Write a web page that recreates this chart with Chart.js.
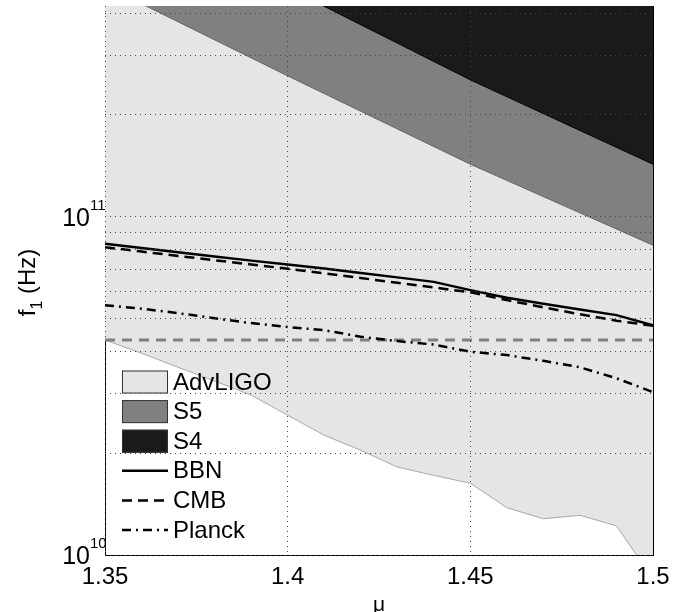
<!DOCTYPE html>
<html>
<head>
<meta charset="utf-8">
<script src="https://cdn.jsdelivr.net/npm/chart.js@4.4.0/dist/chart.umd.min.js"></script>
<style>
  html, body { margin: 0; padding: 0; background: #fff; }
</style>
</head>
<body>
<canvas id="limitChart" width="673" height="612"></canvas>
<script>
const mu = [1.35, 1.36, 1.37, 1.38, 1.39, 1.40, 1.41, 1.42, 1.43, 1.44, 1.45, 1.46, 1.47, 1.48, 1.49, 1.50];
const advLigo = [4.32e10, 3.95e10, 3.59e10, 3.27e10, 2.97e10, 2.59e10, 2.26e10, 2.04e10, 1.82e10, 1.72e10, 1.63e10, 1.38e10, 1.28e10, 1.31e10, 1.22e10, 8.5e9];
const bbn = [8.33e10, 8.09e10, 7.86e10, 7.63e10, 7.42e10, 7.23e10, 7.03e10, 6.82e10, 6.62e10, 6.42e10, 6.07e10, 5.76e10, 5.53e10, 5.32e10, 5.12e10, 4.78e10];
const cmb = [8.13e10, 7.89e10, 7.66e10, 7.44e10, 7.23e10, 7.02e10, 6.80e10, 6.59e10, 6.38e10, 6.18e10, 5.98e10, 5.67e10, 5.40e10, 5.15e10, 4.93e10, 4.76e10];
const planck = [5.48e10, 5.35e10, 5.19e10, 5.01e10, 4.85e10, 4.72e10, 4.62e10, 4.42e10, 4.29e10, 4.19e10, 3.99e10, 3.90e10, 3.75e10, 3.59e10, 3.33e10, 3.03e10];

const muBand = [1.35, 1.40, 1.45, 1.50];
const s5 = [4.82e11, 2.61e11, 1.43e11, 8.24e10];
const s4 = [8.85e11, 4.75e11, 2.54e11, 1.43e11];

const muLimit = [1.35, 1.50];
const limit = [4.32e10, 4.32e10];

const xTicks = [1.35, 1.4, 1.45, 1.5];
const yLabelDecades = [10, 11];

const FONT = '"Liberation Sans", Arial, Helvetica, sans-serif';
Chart.defaults.font.family = FONT;

const pts = (xs, ys) => xs.map((x, i) => ({ x: x, y: ys[i] }));

// axis frame, legend, y tick labels and axis titles
const decorations = {
  id: 'decorations',
  beforeDatasetsDraw(chart) {
    // left and bottom axis lines go under the filled areas
    const ctx = chart.ctx;
    const area = chart.chartArea;
    ctx.save();
    ctx.strokeStyle = '#000';
    ctx.lineWidth = 1;
    ctx.beginPath();
    ctx.moveTo(area.left + 0.5, area.top);
    ctx.lineTo(area.left + 0.5, area.bottom + 0.5);
    ctx.lineTo(area.right, area.bottom + 0.5);
    ctx.stroke();
    ctx.restore();
  },
  afterDraw(chart) {
    const ctx = chart.ctx;
    const area = chart.chartArea;
    const yScale = chart.scales.y;
    ctx.save();

    // right frame line
    ctx.strokeStyle = '#000';
    ctx.lineWidth = 1;
    ctx.beginPath();
    ctx.moveTo(area.right + 0.5, area.top);
    ctx.lineTo(area.right + 0.5, area.bottom + 1);
    ctx.stroke();

    // legend inside the plot, bottom left
    const items = chart.data.datasets.filter(d => d.label);
    const rowH = 29.6, w = 46, h = 23;
    const x0 = area.left + 17;
    let y = area.bottom - 25 - (items.length - 1) * rowH;
    ctx.font = '24px ' + FONT;
    ctx.textBaseline = 'middle';
    ctx.textAlign = 'left';
    items.forEach(d => {
      if (d.fill) {
        ctx.fillStyle = d.backgroundColor;
        ctx.fillRect(x0, y - h / 2, w, h);
        ctx.strokeStyle = '#333';
        ctx.lineWidth = 1;
        ctx.strokeRect(x0 + 0.5, y - h / 2 + 0.5, w - 1, h - 1);
      } else {
        ctx.setLineDash(d.borderDash || []);
        ctx.strokeStyle = d.borderColor;
        ctx.lineWidth = d.borderWidth;
        ctx.beginPath();
        ctx.moveTo(x0, y);
        ctx.lineTo(x0 + w, y);
        ctx.stroke();
        ctx.setLineDash([]);
      }
      ctx.fillStyle = '#000';
      ctx.fillText(d.label, x0 + w + 5, y + 1);
      y += rowH;
    });

    // y tick labels 10^n
    yLabelDecades.forEach(n => {
      const py = yScale.getPixelForValue(Math.pow(10, n));
      ctx.font = '25px ' + FONT;
      ctx.textAlign = 'right';
      ctx.textBaseline = 'middle';
      ctx.fillText('10', 90, py + 2);
      ctx.font = '15px ' + FONT;
      ctx.textAlign = 'left';
      ctx.fillText(String(n), 90, py - 11);
    });

    // x title
    ctx.font = '21px ' + FONT;
    ctx.textAlign = 'center';
    ctx.textBaseline = 'alphabetic';
    ctx.fillText('\u03bc', (area.left + area.right) / 2, 611);

    // y title f_1 (Hz), rotated
    const cy = (area.top + area.bottom) / 2 + 2;
    ctx.translate(35, cy);
    ctx.rotate(-Math.PI / 2);
    ctx.textAlign = 'left';
    ctx.font = '24px ' + FONT;
    const wf = ctx.measureText('f').width;
    const wr = ctx.measureText(' (Hz)').width;
    ctx.font = '16px ' + FONT;
    const ws = ctx.measureText('1').width;
    const start = -(wf + ws + wr) / 2;
    ctx.font = '24px ' + FONT;
    ctx.fillText('f', start, 0);
    ctx.font = '16px ' + FONT;
    ctx.fillText('1', start + wf, 7);
    ctx.font = '24px ' + FONT;
    ctx.fillText(' (Hz)', start + wf + ws, 0);

    ctx.restore();
  }
};

const gridColor = '#444';

new Chart(document.getElementById('limitChart'), {
  type: 'line',
  data: {
    datasets: [
      { label: 'AdvLIGO', data: pts(mu, advLigo), fill: 'end', backgroundColor: '#e5e5e5', borderColor: '#a8a8a8', borderWidth: 1, order: 7 },
      { label: 'S5', data: pts(muBand, s5), fill: 'end', backgroundColor: '#808080', borderColor: '#666666', borderWidth: 1, order: 6 },
      { label: 'S4', data: pts(muBand, s4), fill: 'end', backgroundColor: '#1a1a1a', borderColor: '#000000', borderWidth: 1, order: 5 },
      { label: 'BBN', data: pts(mu, bbn), borderColor: '#000', borderWidth: 2.5, order: 1 },
      { label: 'CMB', data: pts(mu, cmb), borderColor: '#000', borderWidth: 2.5, borderDash: [10, 6], order: 2 },
      { label: 'Planck', data: pts(mu, planck), borderColor: '#000', borderWidth: 2.5, borderDash: [9, 5, 2, 5], order: 3 },
      { data: pts(muLimit, limit), borderColor: '#808080', borderWidth: 3, borderDash: [10, 7], order: 4 }
    ]
  },
  options: {
    responsive: false,
    animation: false,
    layout: { padding: { top: 6, right: 20, left: 0, bottom: 0 } },
    elements: { point: { radius: 0 }, line: { tension: 0 } },
    plugins: {
      legend: { display: false },
      tooltip: { enabled: false }
    },
    scales: {
      x: {
        type: 'linear',
        min: 1.35,
        max: 1.5,
        afterBuildTicks: s => { s.ticks = xTicks.map(v => ({ value: v })); },
        afterFit: s => { s.height = 57; s.paddingLeft = 0; s.paddingRight = 0; },
        ticks: {
          color: '#000',
          font: { size: 24 },
          padding: 8,
          maxRotation: 0,
          autoSkip: false,
          callback: v => String(Math.round(v * 100) / 100)
        },
        grid: { color: gridColor, lineWidth: 1, drawTicks: false, z: 1 },
        border: { display: false, dash: [1, 4] }
      },
      y: {
        type: 'logarithmic',
        min: 1e10,
        max: 4.2e11,
        afterBuildTicks: s => {
          s.ticks = s.ticks.filter(t => {
            const m = t.value / Math.pow(10, Math.floor(Math.log10(t.value) + 1e-9));
            return Math.abs(m - Math.round(m)) < 1e-6;
          });
        },
        afterFit: s => { s.width = 105; },
        ticks: { display: false, autoSkip: false },
        grid: { color: gridColor, lineWidth: 1, drawTicks: false, z: 1 },
        border: { display: false, dash: [1, 4] }
      }
    }
  },
  plugins: [decorations]
});
</script>
</body>
</html>
